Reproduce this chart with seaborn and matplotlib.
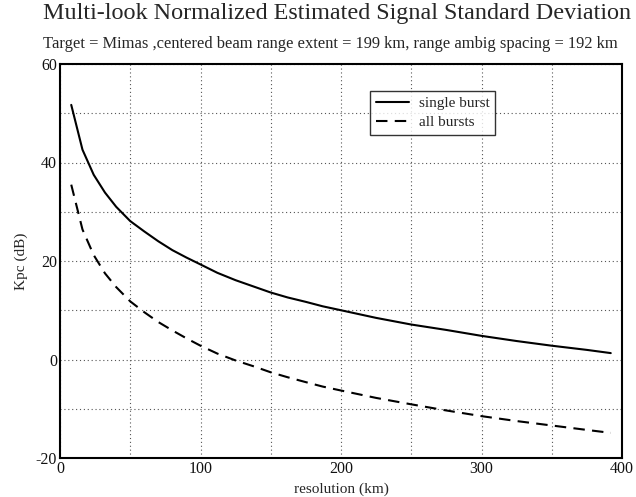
import numpy as np
import pandas as pd
import matplotlib
matplotlib.use("Agg")
import matplotlib.pyplot as plt
import seaborn as sns

# values
resolution_km = [8, 16, 24, 32, 40, 50, 60, 70, 80, 90, 100, 112, 125, 138, 150, 162, 175, 187,
                 200, 225, 250, 275, 300, 325, 350, 375, 392]
single_burst = [51.7, 42.6, 37.5, 33.9, 31.0, 28.1, 26.0, 24.0, 22.2, 20.7, 19.3, 17.6, 16.1, 14.8,
                13.6, 12.6, 11.7, 10.8, 10.0, 8.45, 7.1, 6.0, 4.8, 3.75, 2.8, 1.95, 1.3]
all_bursts = [35.5, 26.4, 21.2, 17.5, 14.7, 11.8, 9.6, 7.6, 5.9, 4.3, 2.8, 1.2, -0.2, -1.4,
              -2.6, -3.6, -4.6, -5.5, -6.3, -7.8, -9.1, -10.35, -11.5, -12.5, -13.4, -14.3, -14.9]

xticks = [0, 100, 200, 300, 400]
yticks = [-20, 0, 20, 40, 60]

df = pd.DataFrame({
    "resolution": resolution_km * 2,
    "kpc": single_burst + all_bursts,
    "series": ["single burst"] * len(resolution_km) + ["all bursts"] * len(resolution_km),
})

sns.set_style("white")
plt.rcParams["font.family"] = ["Liberation Serif", "DejaVu Serif"]
plt.rcParams["axes.unicode_minus"] = False

fig = plt.figure(figsize=(6.36, 4.97), dpi=100)
ax = fig.add_axes([60 / 636, 1 - 458 / 497, 562 / 636, 394 / 497])

sns.lineplot(data=df, x="resolution", y="kpc", style="series", color="black",
             dashes={"single burst": "", "all bursts": (5.5, 3.5)}, linewidth=1.5, ax=ax)

ax.set_xlim(0, 400)
ax.set_ylim(-20, 60)
ax.set_xticks(xticks)
ax.set_yticks(yticks)
ax.set_xticks(np.arange(0, 401, 50), minor=True)
ax.set_yticks(np.arange(-20, 61, 10), minor=True)
ax.grid(which="both", color="#555555", linestyle=(0, (1, 2.5)), linewidth=0.8)
ax.tick_params(which="both", length=0, labelsize=11.5, pad=2, colors="#111111")
for s in ax.spines.values():
    s.set_color("black")
    s.set_linewidth(1.5)

ax.set_xlabel("resolution (km)", fontsize=11, labelpad=4)
ax.set_ylabel("Kpc (dB)", fontsize=11, labelpad=6)

leg = ax.legend(loc="upper left", bbox_to_anchor=(0.552, 0.931), fontsize=11,
                frameon=True, fancybox=False, handlelength=2.2, handletextpad=0.65,
                borderpad=0.35, labelspacing=0.35, borderaxespad=0)
leg.get_frame().set_edgecolor("black")
leg.get_frame().set_linewidth(1.0)

fig.text(337.5 / 636, 1 - 14 / 497, "Multi-look Normalized Estimated Signal Standard Deviation",
         ha="center", va="center", fontsize=17.4)
fig.text(330.5 / 636, 1 - 44 / 497,
         "Target = Mimas ,centered beam range extent = 199 km, range ambig spacing = 192 km",
         ha="center", va="center", fontsize=11.9)

fig.savefig("out.png", dpi=100)
